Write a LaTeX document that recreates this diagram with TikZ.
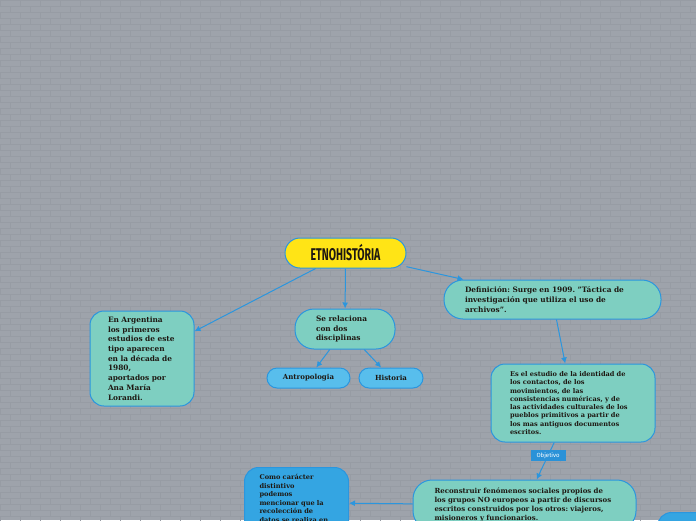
\documentclass[tikz,border=0pt]{standalone}
\usepackage{fontspec}
\setmainfont{DejaVu Serif}
\newfontfamily\titlefont[FakeStretch=0.62]{Fira Sans}
\newfontfamily\tagfont{Fira Sans}
\usetikzlibrary{arrows.meta, positioning}
\frenchspacing

\definecolor{wallgray}{RGB}{158,163,171}
\definecolor{brickline}{RGB}{151,156,164}
\definecolor{linkblue}{RGB}{43,150,222}
\definecolor{ideateal}{RGB}{126,207,193}
\definecolor{skyblue}{RGB}{88,190,236}
\definecolor{deepblue}{RGB}{52,165,226}
\definecolor{tagblue}{RGB}{42,146,216}
\definecolor{titleyellow}{RGB}{255,228,22}
\definecolor{inkdark}{RGB}{30,24,18}

\begin{document}
\begin{tikzpicture}[x=1pt, y=-1pt,
    idea/.style={rectangle, rounded corners=14pt, draw=linkblue, fill=ideateal, line width=1pt, align=left, text=inkdark, inner xsep=0pt, inner ysep=0pt},
    pill/.style={idea, rounded corners=19pt},
    topic/.style={rectangle, rounded corners=10pt, draw=linkblue, fill=skyblue, line width=1pt, text=inkdark, font=\bfseries\fontsize{7}{9}\selectfont, minimum height=20pt, inner sep=0pt},
    tag/.style={rectangle, fill=tagblue, text=white, font=\tagfont\fontsize{6}{7}\selectfont, minimum width=35pt, minimum height=11pt, inner sep=0pt},
    arr/.style={-{Latex[length=6pt, width=6pt]}, draw=linkblue, line width=1pt}
  ]
    \useasboundingbox (0,0) rectangle (696,520);
    \clip (0,0) rectangle (696,520);
    \fill[wallgray] (0,0) rectangle (696,520);
    \foreach \r in {0,...,86} {
      \pgfmathsetmacro\off{mod(\r,2)*10}
      \draw[brickline, line width=0.5pt] (0,\r*6) -- (696,\r*6);
      \draw[brickline, line width=0.5pt] foreach \c in {0,...,35} {(\c*20+\off,\r*6) -- ++(0,6)};
    }

    \node[rectangle, rounded corners=15pt, draw=linkblue, fill=titleyellow, line width=1pt, minimum width=121pt, minimum height=30pt, text=inkdark, font=\titlefont\bfseries\fontsize{17}{17}\selectfont] (title) at (345.5,253) {ETNOHISTÓRIA};

    \node[idea, minimum width=104pt, minimum height=95pt, text width=68pt, font=\bfseries\fontsize{7.4}{9.7}\selectfont] (argentina) at (142,358.5) {En Argentina\\ los primeros\\ estudios de este\\ tipo aparecen\\ en la década de\\ 1980,\\ aportados por\\ Ana María\\ Lorandi.};
    \node[pill, minimum width=100pt, minimum height=40pt, text width=58pt, font=\bfseries\fontsize{7.4}{9.8}\selectfont] (relaciona) at (345,329) {Se relaciona\\ con dos\\ disciplinas};
    \node[topic, minimum width=83pt] (antropologia) at (308.5,378) {Antropologia};
    \node[topic, minimum width=64pt] (historia) at (391,378) {Historia};
    \node[pill, minimum width=217pt, minimum height=39pt, text width=175pt, font=\bfseries\fontsize{7.4}{10}\selectfont] (definicion) at (552.5,299.5) {Definición: Surge en 1909. "Táctica de\\ investigación que utiliza el uso de\\ archivos".};
    \node[idea, minimum width=164pt, minimum height=78pt, text width=126pt, font=\bfseries\fontsize{6.6}{8.3}\selectfont] (estudio) at (573,403) {Es el estudio de la identidad de\\ los contactos, de los\\ movimientos, de las\\ consistencias numéricas, y de\\ las actividades culturales de los\\ pueblos primitivos a partir de\\ los mas antiguos documentos\\ escritos.};
    \node[pill, minimum width=223pt, minimum height=50pt, text width=180pt, font=\bfseries\fontsize{7}{9}\selectfont] (reconstruir) at (524.5,505) {Reconstruir fenómenos sociales propios de\\ los grupos NO europeos a partir de discursos\\ escritos construidos por los otros: viajeros,\\ misioneros y funcionarios.};
    \node[idea, fill=deepblue, anchor=north west, minimum width=104pt, text width=74pt, inner ysep=7pt, font=\bfseries\fontsize{6.6}{8.5}\selectfont] (como) at (244,467) {Como carácter\\ distintivo\\ podemos\\ mencionar que la\\ recolección de\\ datos se realiza en\\ \mbox{}};
    \node[idea, fill=deepblue, anchor=north west, minimum width=80pt, minimum height=40pt] (siguiente) at (657,512) {};

    \draw[arr] (title) -- (argentina);
    \draw[arr] (title) -- (relaciona);
    \draw[arr] (title) -- (definicion);
    \draw[arr] (relaciona) -- (antropologia);
    \draw[arr] (relaciona) -- (historia);
    \draw[arr] (definicion) -- (estudio);
    \draw[arr] (estudio) -- node[tag, pos=0.35] {Objetivo} (reconstruir);
    \draw[arr] (reconstruir) -- (como);
  \end{tikzpicture}
\end{document}
